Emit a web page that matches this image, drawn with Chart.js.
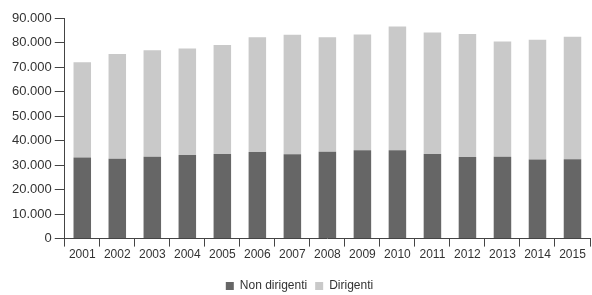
<!DOCTYPE html>
<html>
<head>
<meta charset="utf-8">
<script src="https://cdn.jsdelivr.net/npm/chart.js@4/dist/chart.umd.min.js"></script>
<style>
  html, body { margin: 0; padding: 0; background: #fff; }
  #wrap { width: 592px; height: 295px; }
</style>
</head>
<body>
<div id="wrap"><canvas id="chart" width="592" height="295"></canvas></div>
<script>
// --- DATA ---
const years = ['2001', '2002', '2003', '2004', '2005', '2006', '2007', '2008',
               '2009', '2010', '2011', '2012', '2013', '2014', '2015'];
const nonDirigenti = [33100, 32600, 33400, 34100, 34500, 35300, 34400, 35400,
                      36000, 36000, 34500, 33300, 33400, 32300, 32400];
const dirigenti = [38800, 42700, 43400, 43500, 44500, 46800, 48800, 46700,
                   47300, 50500, 49600, 50200, 47000, 48800, 50000];
const yMax = 90000;
const yStep = 10000;

// Italian style thousands: 10.000
function fmt(v) {
    return String(v).replace(/\B(?=(\d{3})+(?!\d))/g, '.');
}

const textColor = '#333';
const axisColor = '#444';

// legend sits a bit lower than Chart.js puts it: make room, then nudge it down
const legendNudge = {
    id: 'legendNudge',
    beforeInit(chart) {
        const legend = chart.legend;
        const origFit = legend.fit;
        legend.fit = function () {
            origFit.call(this);
            this.height += 2;
        };
    },
    afterLayout(chart) {
        chart.legend.top += 9;
        chart.legend.bottom += 9;
    }
};

new Chart(document.getElementById('chart').getContext('2d'), {
    type: 'bar',
    data: {
        labels: years,
        datasets: [
            {
                label: 'Non dirigenti',
                data: nonDirigenti,
                backgroundColor: '#666666',
                barPercentage: 0.5,
                categoryPercentage: 1
            },
            {
                label: 'Dirigenti',
                data: dirigenti,
                backgroundColor: '#c9c9c9',
                barPercentage: 0.5,
                categoryPercentage: 1
            }
        ]
    },
    options: {
        responsive: false,
        animation: false,
        layout: { padding: { left: 9, right: 2, top: 18, bottom: 0 } },
        plugins: {
            tooltip: { enabled: false },
            legend: {
                position: 'bottom',
                labels: {
                    color: textColor,
                    font: { family: 'Liberation Sans', size: 12 },
                    boxWidth: 8,
                    boxHeight: 8,
                    padding: 8
                }
            }
        },
        scales: {
            x: {
                stacked: true,
                grid: {
                    drawOnChartArea: false,
                    drawTicks: true,
                    tickLength: 8,
                    color: axisColor,
                    offset: true
                },
                border: { display: true, color: axisColor, width: 1 },
                ticks: {
                    color: textColor,
                    font: { family: 'Liberation Sans', size: 12 },
                    padding: 1,
                    maxRotation: 0
                }
            },
            y: {
                stacked: true,
                min: 0,
                max: yMax,
                grid: {
                    drawOnChartArea: false,
                    drawTicks: true,
                    tickLength: 10,
                    color: axisColor
                },
                border: { display: true, color: axisColor, width: 1 },
                ticks: {
                    stepSize: yStep,
                    color: textColor,
                    font: { family: 'Liberation Sans', size: 13 },
                    padding: 3,
                    callback: v => fmt(v)
                }
            }
        }
    },
    plugins: [legendNudge]
});
</script>
</body>
</html>
